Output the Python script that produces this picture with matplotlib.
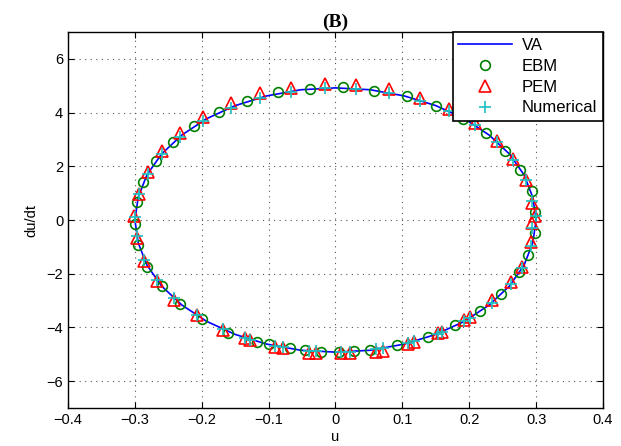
import numpy as np
import matplotlib.pyplot as plt

# --- VA curve ---
va_u = [0.300, 0.295, 0.282, 0.260, 0.230, 0.193, 0.150, 0.103, 0.052, 0.000,
        -0.052, -0.103, -0.150, -0.193, -0.230, -0.260, -0.282, -0.295, -0.300,
        -0.295, -0.282, -0.260, -0.230, -0.193, -0.150, -0.103, -0.052, 0.000,
        0.052, 0.103, 0.150, 0.193, 0.230, 0.260, 0.282, 0.295, 0.300]
va_v = [0.00, 0.85, 1.68, 2.46, 3.16, 3.77, 4.26, 4.62, 4.85, 4.92,
        4.85, 4.62, 4.26, 3.77, 3.16, 2.46, 1.68, 0.85, 0.00,
        -0.85, -1.68, -2.46, -3.16, -3.77, -4.26, -4.62, -4.85, -4.92,
        -4.85, -4.62, -4.26, -3.77, -3.16, -2.46, -1.68, -0.85, 0.00]

# --- EBM ---
ebm_u = [-0.2975, -0.2876, -0.2687, -0.2428, -0.2115, -0.1741, -0.1318, -0.0861, -0.0388, 0.011,
         0.058, 0.1065, 0.150, 0.190, 0.225, 0.2537, 0.276, 0.2935, 0.298,
         0.299, 0.288, 0.274, 0.247, 0.216, 0.179, 0.138, 0.0915, 0.052, 0.028,
         -0.300, -0.295, -0.2826, -0.260, -0.233, -0.199, -0.1607, -0.118, -0.0995,
         -0.0687, -0.045, -0.0214, 0.005]
ebm_v = [0.66, 1.43, 2.20, 2.90, 3.50, 4.03, 4.45, 4.75, 4.89, 4.94,
         4.82, 4.60, 4.26, 3.75, 3.23, 2.58, 1.86, 1.09, 0.31,
         -0.50, -1.30, -1.95, -2.76, -3.38, -3.91, -4.35, -4.66, -4.85, -4.89,
         -0.15, -0.93, -1.74, -2.46, -3.11, -3.69, -4.19, -4.53, -4.62,
         -4.76, -4.85, -4.91, -4.92]

# --- PEM ---
pem_u = [-0.3015, -0.2935, -0.281, -0.260, -0.233, -0.198, -0.157, -0.113, -0.066, -0.016,
         0.031, 0.0806, 0.127, 0.170, 0.209, 0.242, 0.266, 0.2846, 0.2945, 0.2985,
         -0.2975, -0.286, -0.2676, -0.241, -0.207, -0.168, -0.136, -0.128, -0.091, -0.0786,
         -0.040, -0.029, 0.0085, 0.021, 0.061, 0.0706, 0.108, 0.118, 0.153, 0.160,
         0.1925, 0.201, 0.234, 0.262, 0.2796, 0.292, 0.2945]
pem_v = [0.15, 0.97, 1.78, 2.58, 3.23, 3.83, 4.35, 4.72, 4.93, 5.06,
         5.03, 4.87, 4.53, 4.12, 3.60, 2.96, 2.26, 1.49, 0.65, 0.15,
         -0.68, -1.52, -2.26, -2.96, -3.54, -4.10, -4.41, -4.47, -4.72, -4.78,
         -4.97, -4.97, -4.97, -4.97, -4.91, -4.87, -4.60, -4.54, -4.22, -4.16,
         -3.73, -3.63, -2.98, -2.30, -1.74, -0.81, -0.12]

# --- Numerical ---
num_u = [-0.300, -0.2935, -0.281, -0.260, -0.233, -0.198, -0.157, -0.113, -0.066, -0.016,
         0.031, 0.0806, 0.127, 0.170, 0.209, 0.242, 0.266, 0.2846, 0.2945, 0.300,
         -0.2975, -0.286, -0.2676, -0.241, -0.207, -0.168, -0.136, -0.128, -0.091, -0.0786,
         -0.040, -0.029, 0.0085, 0.021, 0.061, 0.0706, 0.108, 0.118, 0.153, 0.160,
         0.1925, 0.201, 0.234, 0.262, 0.2796, 0.292, 0.2945]
num_v = [0.10, 0.95, 1.72, 2.45, 3.10, 3.68, 4.17, 4.55, 4.78, 4.90,
         4.88, 4.72, 4.45, 4.05, 3.52, 2.90, 2.24, 1.50, 0.70, 0.15,
         -0.60, -1.48, -2.22, -2.92, -3.55, -4.07, -4.38, -4.45, -4.68, -4.74,
         -4.87, -4.89, -4.92, -4.91, -4.82, -4.78, -4.59, -4.52, -4.23, -4.16,
         -3.77, -3.65, -3.08, -2.40, -1.78, -0.95, -0.30]

plt.rcParams['font.family'] = ['Liberation Sans', 'DejaVu Sans']
plt.rcParams['axes.unicode_minus'] = True

fig = plt.figure(figsize=(6.21, 4.46), dpi=100)
ax = fig.add_axes([0.1095, 0.0852, 0.8615, 0.8430])

ax.plot(va_u, va_v, '-', color='#0000ff', lw=1.2, label='VA', zorder=2)
ax.plot(ebm_u, ebm_v, 'o', mfc='none', mec='#008000', ms=7, mew=1.2, label='EBM', zorder=3)
ax.plot(pem_u, pem_v, '^', mfc='none', mec='#ff0000', ms=8, mew=1.2, label='PEM', zorder=3)
ax.plot(num_u, num_v, '+', color='#1fbfbf', ms=8, mew=1.2, label='Numerical', zorder=4)

ax.set_xlim(-0.4, 0.4)
ax.set_ylim(-7, 7)
ax.set_xticks(np.arange(-0.4, 0.41, 0.1))
ax.set_xticklabels(['\u22120.4', '\u22120.3', '\u22120.2', '\u22120.1', '0', '0.1', '0.2', '0.3', '0.4'])
ax.set_yticks([-6, -4, -2, 0, 2, 4, 6])
ax.tick_params(direction='in', top=True, right=True, labelsize=10.5, length=4, width=0.8)
ax.grid(True, linestyle=(0, (1, 4)), color='#555555', lw=0.8)
for s in ax.spines.values():
    s.set_linewidth(1.0)

ax.set_xlabel('u', fontsize=10.5, labelpad=2)
ax.set_ylabel('du/dt', fontsize=10.5, labelpad=6)
ax.set_title('(B)', fontsize=14, fontweight='bold', family='Liberation Serif', pad=4)

leg = ax.legend(loc='upper right', borderaxespad=0, fancybox=False, framealpha=1,
                edgecolor='black', fontsize=12, handlelength=3.2, labelspacing=0.35,
                borderpad=0.35, handletextpad=0.6)
leg.get_frame().set_linewidth(1.2)

fig.savefig('out.png', dpi=100)
